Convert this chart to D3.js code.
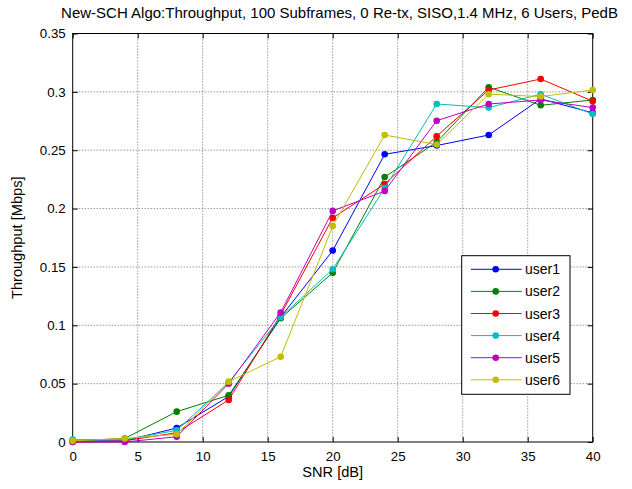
<!DOCTYPE html>
<html><head><meta charset="utf-8">
<script src="https://cdn.jsdelivr.net/npm/d3@7"></script>
<style>body{margin:0;background:#fff}svg{display:block}text{font-family:"Liberation Sans",Arial,sans-serif;fill:#000}</style>
</head><body><svg id="c" width="632" height="489"></svg>
<script>
const snr = [0,4,8,12,16,20,24,28,32,36,40];
const xTicks = [0,5,10,15,20,25,30,35,40];
const yTicks = [0,0.05,0.1,0.15,0.2,0.25,0.3,0.35];
const seriesNames = ["user1","user2","user3","user4","user5","user6"];
const seriesColors = ["#0000ff","#008000","#ff0000","#00bfbf","#bf00bf","#bfbf00"];
const user1 = [0.001,0.001,0.012,0.039,0.107,0.164,0.2465,0.254,0.263,0.294,0.282];
const user2 = [0.001,0.003,0.026,0.040,0.106,0.145,0.227,0.257,0.304,0.2885,0.293];
const user3 = [0.000,0.001,0.008,0.036,0.109,0.192,0.221,0.262,0.3016,0.311,0.292];
const user4 = [0.002,0.002,0.010,0.051,0.107,0.148,0.2175,0.2896,0.2865,0.298,0.281];
const user5 = [0.000,0.000,0.0045,0.050,0.111,0.198,0.215,0.2753,0.2896,0.293,0.2865];
const user6 = [0.001,0.003,0.0066,0.0517,0.073,0.185,0.263,0.2548,0.298,0.296,0.3016];
const seriesValues = [user1,user2,user3,user4,user5,user6];

const svg = d3.select("#c");
const L=72.7, R=592.7, T=33.5, B=442;
const x = d3.scaleLinear().domain([0,40]).range([L,R]);
const y = d3.scaleLinear().domain([0,0.35]).range([B,T]);
const fmt = d => d===0 ? "0" : String(+d.toFixed(2));

// grid
const g = svg.append("g");
g.selectAll(".gx").data(xTicks.slice(1,-1)).enter().append("line")
  .attr("x1",d=>x(d)).attr("x2",d=>x(d)).attr("y1",T).attr("y2",B)
  .attr("stroke","#444").attr("stroke-width",0.8).attr("stroke-dasharray","1,2");
g.selectAll(".gy").data(yTicks.slice(1,-1)).enter().append("line")
  .attr("y1",d=>y(d)).attr("y2",d=>y(d)).attr("x1",L).attr("x2",R)
  .attr("stroke","#444").attr("stroke-width",0.8).attr("stroke-dasharray","1,2");

// axes
const ax = svg.append("g").attr("transform",`translate(0,${B})`)
  .call(d3.axisBottom(x).tickValues(xTicks).tickFormat(fmt).tickSizeInner(-5).tickSizeOuter(0).tickPadding(10));
const ay = svg.append("g").attr("transform",`translate(${L},0)`)
  .call(d3.axisLeft(y).tickValues(yTicks).tickFormat(fmt).tickSizeInner(-5).tickSizeOuter(0).tickPadding(7));
const axT = svg.append("g").attr("transform",`translate(0,${T})`)
  .call(d3.axisTop(x).tickValues(xTicks).tickFormat("").tickSizeInner(-5).tickSizeOuter(0));
const ayR = svg.append("g").attr("transform",`translate(${R},0)`)
  .call(d3.axisRight(y).tickValues(yTicks).tickFormat("").tickSizeInner(-5).tickSizeOuter(0));
[ax,ay,axT,ayR].forEach(a=>{a.select(".domain").remove();a.selectAll("line").attr("stroke","#000");
  a.selectAll("text").style("font-size","13.3px").style("font-family","Liberation Sans, Arial, sans-serif").attr("fill","#000");});
svg.append("rect").attr("x",L).attr("y",T).attr("width",R-L).attr("height",B-T)
  .attr("fill","none").attr("stroke","#000").attr("stroke-width",1);

// lines
const line = d3.line().x((d,i)=>x(snr[i])).y(d=>y(d));
seriesValues.forEach((vals,k)=>{
  svg.append("path").datum(vals).attr("d",line).attr("fill","none")
    .attr("stroke",seriesColors[k]).attr("stroke-width",1);
  svg.append("g").selectAll("circle").data(vals).enter().append("circle")
    .attr("cx",(d,i)=>x(snr[i])).attr("cy",d=>y(d)).attr("r",3.3).attr("fill",seriesColors[k]);
});

// titles
svg.append("text").attr("x",339.5).attr("y",18).attr("text-anchor","middle")
  .style("font-size","15px").text("New-SCH Algo:Throughput, 100 Subframes, 0 Re-tx, SISO,1.4 MHz, 6 Users, PedB");
svg.append("text").attr("x",(L+R)/2).attr("y",477).attr("text-anchor","middle")
  .style("font-size","14.6px").text("SNR [dB]");
svg.append("text").attr("transform",`translate(22,${(T+B)/2}) rotate(-90)`).attr("text-anchor","middle")
  .style("font-size","14.6px").text("Throughput [Mbps]");

// legend
const lx=461.7, ly=255.7, lw=108.3, lh=138.6;
svg.append("rect").attr("x",lx).attr("y",ly).attr("width",lw).attr("height",lh)
  .attr("fill","#fff").attr("stroke","#000").attr("stroke-width",1);
const le = svg.append("g").selectAll("g").data(seriesNames).enter().append("g")
  .attr("transform",(d,i)=>`translate(0,${269.3+i*22.1})`);
le.append("line").attr("x1",471).attr("x2",521.7).attr("y1",0).attr("y2",0)
  .attr("stroke",(d,i)=>seriesColors[i]).attr("stroke-width",1);
le.append("circle").attr("cx",495.7).attr("cy",0).attr("r",3.3).attr("fill",(d,i)=>seriesColors[i]);
le.append("text").attr("x",525).attr("y",5).style("font-size","14px").text(d=>d);
</script></body></html>
